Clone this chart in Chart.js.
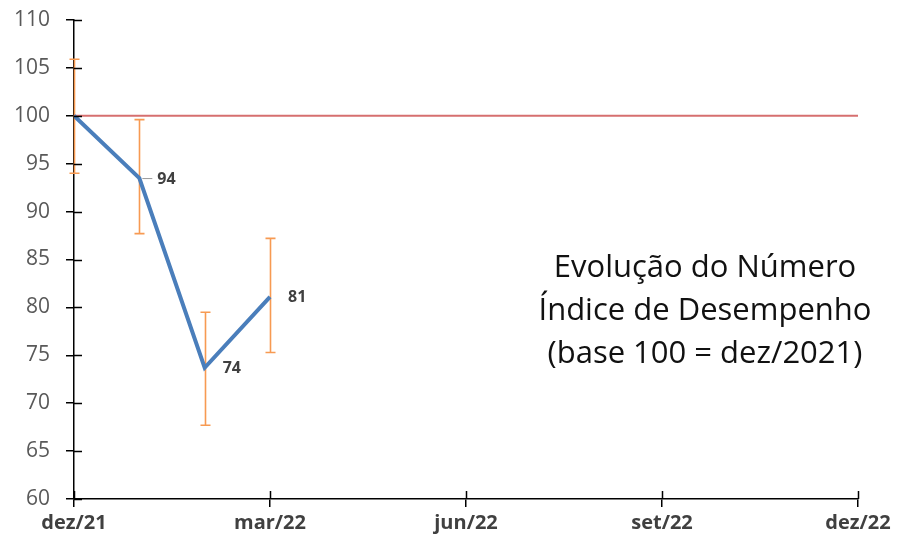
<!DOCTYPE html>
<html lang="pt">
<head>
  <meta charset="UTF-8" />
  <title>Evolução do Número Índice de Desempenho</title>
  <script src="https://cdn.jsdelivr.net/npm/chart.js"></script>
  <style>
    html, body { margin: 0; padding: 0; background: #fff; }
    #wrap { position: relative; width: 897px; height: 542px; }
    #note {
      position: absolute; left: 515px; top: 244px; width: 380px;
      text-align: center; font-family: "Open Sans", sans-serif;
      font-size: 31px; line-height: 43px; color: #111;
    }
  </style>
</head>
<body>
  <div id="wrap">
    <canvas id="chart" width="897" height="542"></canvas>
    <div id="note">Evolução do Número<br>Índice de Desempenho<br>(base 100 = dez/2021)</div>
  </div>

  <script>
    // months from dez/21 to dez/22, index = position on the x axis
    const months = ["dez/21", "jan/22", "fev/22", "mar/22", "abr/22", "mai/22", "jun/22",
                    "jul/22", "ago/22", "set/22", "out/22", "nov/22", "dez/22"];
    const indexValues = [100, 93.5, 73.7, 81.1];
    const errLow = [94.0, 87.7, 67.7, 75.3];
    const errHigh = [105.9, 99.6, 79.5, 87.2];
    const pointLabels = ["", "94", "74", "81"];
    const baseLine = 100;

    const lineData = indexValues.map((v, i) => ({ x: i, y: v }));
    const baseData = [{ x: 0, y: baseLine }, { x: months.length - 1, y: baseLine }];

    // tick marks crossing the axes (Chart.js only draws the outer half)
    const innerTicks = {
      id: "innerTicks",
      afterDatasetsDraw(chart) {
        const { ctx, scales: { x, y }, chartArea } = chart;
        ctx.save();
        ctx.strokeStyle = "#000";
        ctx.lineWidth = 1.5;
        ctx.beginPath();
        y.ticks.forEach(t => {
          const py = Math.round(y.getPixelForValue(t.value)) + 0.5;
          ctx.moveTo(chartArea.left, py);
          ctx.lineTo(chartArea.left + 8, py);
        });
        x.ticks.forEach(t => {
          const px = Math.round(x.getPixelForValue(t.value)) + 0.5;
          ctx.moveTo(px, chartArea.bottom);
          ctx.lineTo(px, chartArea.bottom - 8);
        });
        ctx.stroke();
        ctx.restore();
      }
    };

    const errorBars = {
      id: "errorBars",
      beforeDatasetsDraw(chart) {
        const { ctx, scales: { x, y } } = chart;
        ctx.save();
        ctx.strokeStyle = "#F79A52";
        ctx.lineWidth = 1.6;
        errLow.forEach((lo, i) => {
          const px = Math.round(x.getPixelForValue(i)) + 0.5;
          const y1 = y.getPixelForValue(lo);
          const y2 = y.getPixelForValue(errHigh[i]);
          ctx.beginPath();
          ctx.moveTo(px, y1); ctx.lineTo(px, y2);
          ctx.moveTo(px - 5, y1); ctx.lineTo(px + 5, y1);
          ctx.moveTo(px - 5, y2); ctx.lineTo(px + 5, y2);
          ctx.stroke();
        });
        ctx.restore();
      }
    };

    const valueLabels = {
      id: "valueLabels",
      afterDatasetsDraw(chart) {
        const { ctx, scales: { x, y } } = chart;
        ctx.save();
        ctx.font = "bold 16px 'Open Sans', sans-serif";
        ctx.fillStyle = "#404040";
        ctx.textBaseline = "middle";
        pointLabels.forEach((txt, i) => {
          if (!txt) return;
          const px = x.getPixelForValue(i);
          const py = y.getPixelForValue(indexValues[i]);
          if (i === 1) {
            // small leader line, like the original
            ctx.strokeStyle = "#999";
            ctx.lineWidth = 1;
            ctx.beginPath();
            ctx.moveTo(px + 3, py + 0.5); ctx.lineTo(px + 13, py + 0.5);
            ctx.stroke();
          }
          ctx.fillText(txt, px + 18, py + 1);
        });
        ctx.restore();
      }
    };

    new Chart(document.getElementById("chart"), {
      type: "line",
      data: {
        datasets: [
          {
            data: lineData,
            borderColor: "#4A7EBB",
            borderWidth: 4,
            pointRadius: 0,
            tension: 0,
            order: 1
          },
          {
            data: baseData,
            borderColor: "#D66F6F",
            borderWidth: 2,
            pointRadius: 0,
            order: 2
          }
        ]
      },
      options: {
        responsive: false,
        animation: false,
        layout: { padding: { top: 20, right: 39, bottom: 0, left: 0 } },
        plugins: { legend: { display: false }, tooltip: { enabled: false } },
        scales: {
          x: {
            type: "linear",
            min: 0,
            max: months.length - 1,
            afterFit: s => { s.height = 43; },
            ticks: {
              stepSize: 3,
              color: "#404040",
              font: { family: "'Open Sans', sans-serif", size: 20, weight: "bold" },
              padding: 4,
              maxRotation: 0,
              callback: v => months[v]
            },
            grid: { drawOnChartArea: false, color: "#000", tickLength: 8, lineWidth: 1.5 },
            border: { color: "#000", width: 1.5 }
          },
          y: {
            min: 60,
            max: 110,
            afterFit: s => { s.width = 74; s.paddingTop = 0; s.paddingBottom = 0; },
            ticks: {
              stepSize: 5,
              color: "#595959",
              font: { family: "'Open Sans', sans-serif", size: 21 },
              padding: 16
            },
            grid: { drawOnChartArea: false, color: "#000", tickLength: 8, lineWidth: 1.5 },
            border: { color: "#000", width: 1.5 }
          }
        }
      },
      plugins: [errorBars, innerTicks, valueLabels]
    });
  </script>
</body>
</html>
